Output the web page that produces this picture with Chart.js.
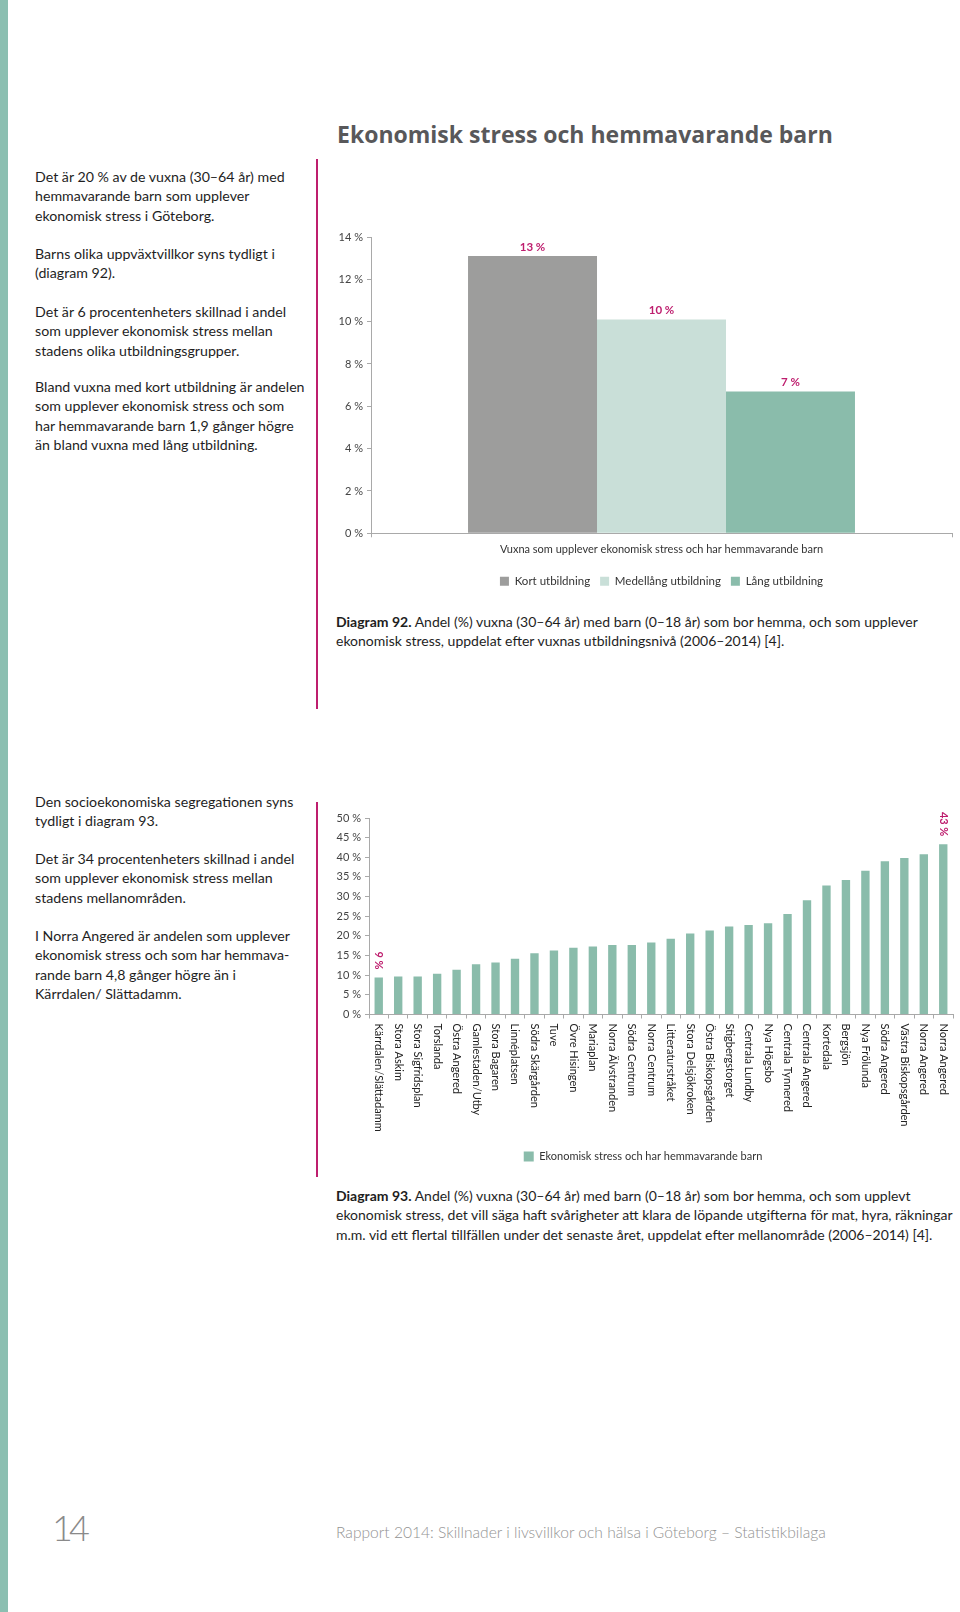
<!DOCTYPE html>
<html lang="sv">
<head>
<meta charset="utf-8">
<title>Ekonomisk stress och hemmavarande barn</title>
<script src="https://cdn.jsdelivr.net/npm/chart.js@4.4.1/dist/chart.umd.min.js"></script>
<style>
  html, body { margin: 0; padding: 0; }
  body { width: 960px; height: 1612px; position: relative; background: #fff; font-family: Lato, sans-serif; color: #1e1e1e; overflow: hidden; }
  .strip { position: absolute; left: 0; top: 0; width: 8px; height: 1612px; background: #8bbfb1; }
  .rule { position: absolute; left: 316px; width: 2px; background: #be1e6e; }
  h1 { position: absolute; left: 337px; top: 119px; margin: 0; font: 700 23px/30px "Open Sans", sans-serif; color: #58585a; white-space: nowrap; }
  .txt { position: absolute; left: 35px; margin: 0; font-size: 14.2px; line-height: 19.4px; white-space: nowrap; }
  .cap { position: absolute; left: 336px; margin: 0; font-size: 14px; line-height: 19.4px; white-space: nowrap; }
  .cap b { font-weight: 700; }
  .chartbox { position: absolute; }
  .pageno { position: absolute; left: 52px; top: 1504px; font: 300 36px/46px Lato, sans-serif; letter-spacing: -4px; color: #8a8a8a; }
  .foot { position: absolute; left: 336px; top: 1522px; font: 300 15.6px/20px Lato, sans-serif; color: #939393; white-space: nowrap; }
</style>
</head>
<body>
<div class="strip"></div>
<div class="rule" style="top:159px;height:550px"></div>
<div class="rule" style="top:802px;height:375px"></div>

<h1>Ekonomisk stress och hemmavarande barn</h1>

<p class="txt" style="top:167px">Det är 20 % av de vuxna (30–64 år) med<br>hemmavarande barn som upplever<br>ekonomisk stress i Göteborg.</p>
<p class="txt" style="top:244px">Barns olika uppväxtvillkor syns tydligt i<br>(diagram 92).</p>
<p class="txt" style="top:302px">Det är 6 procentenheters skillnad i andel<br>som upplever ekonomisk stress mellan<br>stadens olika utbildningsgrupper.</p>
<p class="txt" style="top:377px">Bland vuxna med kort utbildning är andelen<br>som upplever ekonomisk stress och som<br>har hemmavarande barn 1,9 gånger högre<br>än bland vuxna med lång utbildning.</p>

<div class="chartbox" style="left:336px;top:225px;width:624px;height:372px"><canvas id="eduChart" width="624" height="372"></canvas></div>

<p class="cap" style="top:612px"><b>Diagram 92.</b> Andel (%) vuxna (30–64 år) med barn (0–18 år) som bor hemma, och som upplever<br>ekonomisk stress, uppdelat efter vuxnas utbildningsnivå (2006–2014) [4].</p>

<p class="txt" style="top:792px">Den socioekonomiska segregationen syns<br>tydligt i diagram 93.</p>
<p class="txt" style="top:849px">Det är 34 procentenheters skillnad i andel<br>som upplever ekonomisk stress mellan<br>stadens mellanområden.</p>
<p class="txt" style="top:926px">I Norra Angered är andelen som upplever<br>ekonomisk stress och som har hemmava-<br>rande barn 4,8 gånger högre än i<br>Kärrdalen/ Slättadamm.</p>

<div class="chartbox" style="left:333px;top:800px;width:627px;height:372px"><canvas id="areaChart" width="627" height="372"></canvas></div>

<p class="cap" style="top:1186px"><b>Diagram 93.</b> Andel (%) vuxna (30–64 år) med barn (0–18 år) som bor hemma, och som upplevt<br>ekonomisk stress, det vill säga haft svårigheter att klara de löpande utgifterna för mat, hyra, räkningar<br>m.m. vid ett flertal tillfällen under det senaste året, uppdelat efter mellanområde (2006–2014) [4].</p>

<div class="pageno">14</div>
<div class="foot">Rapport 2014: Skillnader i livsvillkor och hälsa i Göteborg – Statistikbilaga</div>

<script>
// Diagram 92
const eduCategory = ['Vuxna som upplever ekonomisk stress och har hemmavarande barn'];
const eduGroups = ['Kort utbildning', 'Medellång utbildning', 'Lång utbildning'];
const eduValues = [13.1, 10.1, 6.7];
const eduTicks = [0, 2, 4, 6, 8, 10, 12, 14];

// Diagram 93
const areaNames = ['Kärrdalen/Slättadamm', 'Stora Askim', 'Stora Sigfridsplan', 'Torslanda', 'Östra Angered',
  'Gamlestaden/Utby', 'Stora Bagaren', 'Linnéplatsen', 'Södra Skärgården', 'Tuve', 'Övre Hisingen', 'Mariaplan',
  'Norra Älvstranden', 'Södra Centrum', 'Norra Centrum', 'Litteraturstråket', 'Stora Delsjökroken',
  'Östra Biskopsgården', 'Stigbergstorget', 'Centrala Lundby', 'Nya Högsbo', 'Centrala Tynnered',
  'Centrala Angered', 'Kortedala', 'Bergsjön', 'Nya Frölunda', 'Södra Angered', 'Västra Biskopsgården',
  'Norra Angered', 'Norra Angered'];
const areaValues = [9.4, 9.7, 9.7, 10.4, 11.4, 12.8, 13.2, 14.2, 15.6, 16.3, 17.0, 17.3, 17.7, 17.7, 18.3,
  19.3, 20.6, 21.4, 22.4, 22.8, 23.2, 25.6, 29.1, 32.8, 34.2, 36.6, 39.0, 39.8, 40.8, 43.3];
const areaLegend = 'Ekonomisk stress och har hemmavarande barn';
const areaLabelled = [0, 29];
const areaTicks = [0, 5, 10, 15, 20, 25, 30, 35, 40, 45, 50];

const eduColors = ['#9d9d9c', '#c9dfd8', '#8abcab'];
const accent = '#be1e6e';
const axisGrey = '#a9a9a9';

Chart.defaults.font.family = 'Lato';
Chart.defaults.font.size = 11;
Chart.defaults.color = '#333';

const pct = v => v + ' %';

// value labels above the bars of diagram 92
const eduLabels = {
  id: 'eduLabels',
  afterDatasetsDraw(chart) {
    const ctx = chart.ctx;
    ctx.save();
    ctx.font = 'bold 11.5px Lato';
    ctx.fillStyle = accent;
    ctx.textAlign = 'center';
    ctx.textBaseline = 'bottom';
    chart.data.datasets.forEach((ds, i) => {
      chart.getDatasetMeta(i).data.forEach((bar, j) => {
        ctx.fillText(pct(Math.round(ds.data[j])), bar.x, bar.y - 3);
      });
    });
    ctx.restore();
  }
};

// rotated category names and the two value labels of diagram 93
const areaText = {
  id: 'areaText',
  afterDraw(chart) {
    const ctx = chart.ctx;
    const xs = chart.scales.x;
    ctx.save();
    ctx.font = '11px Lato';
    ctx.fillStyle = '#222';
    ctx.textAlign = 'left';
    ctx.textBaseline = 'middle';
    areaNames.forEach((name, i) => {
      ctx.save();
      ctx.translate(xs.getPixelForTick(i), xs.top + 9);
      ctx.rotate(Math.PI / 2);
      ctx.fillText(name, 0, 0);
      ctx.restore();
    });
    const bars = chart.getDatasetMeta(0).data;
    ctx.font = 'bold 11px Lato';
    ctx.fillStyle = accent;
    ctx.textAlign = 'right';
    areaLabelled.forEach(i => {
      ctx.save();
      ctx.translate(bars[i].x, bars[i].y - 8);
      ctx.rotate(Math.PI / 2);
      ctx.fillText(pct(Math.round(areaValues[i])), 0, 0);
      ctx.restore();
    });
    ctx.restore();
  }
};

new Chart(document.getElementById('eduChart'), {
  type: 'bar',
  data: {
    labels: eduCategory,
    datasets: eduGroups.map((g, i) => ({
      label: g,
      data: [eduValues[i]],
      backgroundColor: eduColors[i],
      categoryPercentage: 0.666,
      barPercentage: 1
    }))
  },
  options: {
    responsive: false,
    devicePixelRatio: 1,
    animation: false,
    layout: { padding: { top: 12, right: 8, left: 0, bottom: 0 } },
    plugins: {
      legend: {
        position: 'bottom',
        fullSize: false,
        labels: { boxWidth: 9, boxHeight: 9, padding: 10, color: '#333', font: { size: 11.5 } }
      },
      tooltip: { enabled: false }
    },
    scales: {
      x: {
        grid: { drawOnChartArea: false, offset: true, tickLength: 4, color: axisGrey },
        border: { color: axisGrey },
        ticks: { padding: 6, color: '#333' },
        afterFit: s => { s.height += 3; }
      },
      y: {
        min: 0,
        max: 14,
        afterBuildTicks: s => { s.ticks = eduTicks.map(v => ({ value: v })); },
        ticks: { callback: pct, padding: 4, color: '#444' },
        grid: { drawOnChartArea: false, tickLength: 4, color: axisGrey },
        border: { color: axisGrey },
        afterFit: s => { s.width = 35; }
      }
    }
  },
  plugins: [eduLabels]
});

new Chart(document.getElementById('areaChart'), {
  type: 'bar',
  data: {
    labels: areaNames,
    datasets: [{
      label: areaLegend,
      data: areaValues,
      backgroundColor: '#8abcab',
      categoryPercentage: 0.86,
      barPercentage: 0.5
    }]
  },
  options: {
    responsive: false,
    devicePixelRatio: 1,
    animation: false,
    layout: { padding: { top: 18, right: 7, left: 0, bottom: 0 } },
    plugins: {
      legend: {
        position: 'bottom',
        labels: { boxWidth: 10, boxHeight: 10, padding: 10, color: '#333', font: { size: 11 } }
      },
      tooltip: { enabled: false }
    },
    scales: {
      x: {
        grid: { drawOnChartArea: false, offset: true, tickLength: 4, color: axisGrey },
        border: { color: axisGrey },
        ticks: { display: false, minRotation: 90, maxRotation: 90, autoSkip: false },
        afterFit: s => { s.height = 126.5; }
      },
      y: {
        min: 0,
        max: 50,
        afterBuildTicks: s => { s.ticks = areaTicks.map(v => ({ value: v })); },
        ticks: { callback: pct, padding: 4, color: '#444' },
        grid: { drawOnChartArea: false, tickLength: 4, color: axisGrey },
        border: { color: axisGrey },
        afterFit: s => { s.width = 36; }
      }
    }
  },
  plugins: [areaText]
});
</script>
</body>
</html>
